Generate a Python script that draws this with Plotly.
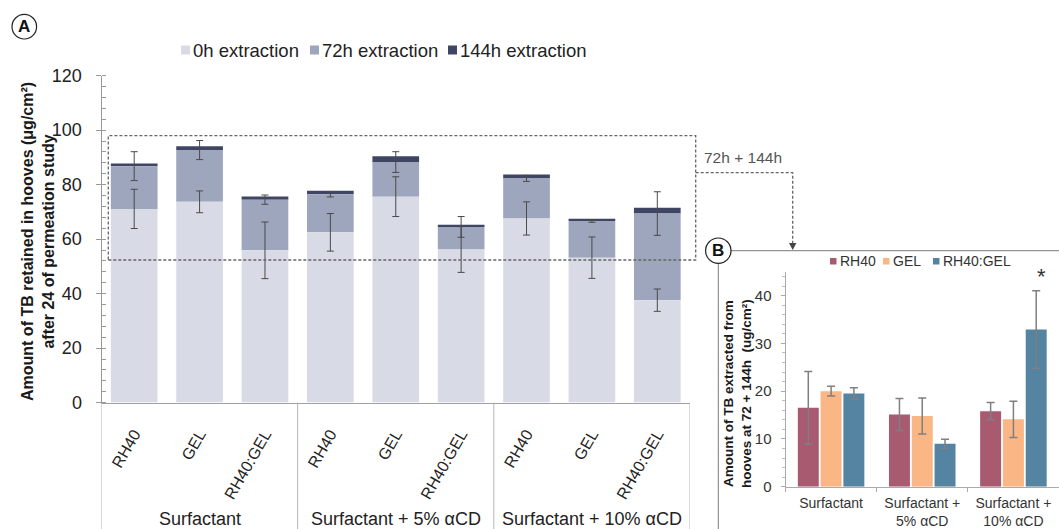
import plotly.graph_objects as go

W, H = 1059, 529
FONT = "Liberation Sans, Arial, Helvetica, sans-serif"

# ---- Panel A: TB retained in hooves, stacked by extraction time ----
formulations = ["RH40", "GEL", "RH40:GEL"] * 3
groups_a = ["Surfactant", "Surfactant + 5% αCD", "Surfactant + 10% αCD"]
series_a = ["0h extraction", "72h extraction", "144h extraction"]
colors_a = ["#d8dbe6", "#9ea6bd", "#3e4663"]

extract_0h = [71.1, 73.7, 55.9, 62.5, 75.6, 56.2, 67.6, 53.2, 37.6]
extract_0h_sd = [7.2, 4.0, 10.4, 6.9, 7.3, 8.4, 6.1, 7.6, 4.1]
extract_72h = [15.7, 19.0, 18.6, 14.0, 12.7, 8.3, 14.7, 13.5, 31.8]
extract_72h_sd = [5.3, 3.5, 1.7, 1.0, 3.8, 3.8, 1.1, 0.5, 8.0]
extract_144h = [1.0, 1.4, 1.2, 1.3, 2.1, 0.8, 1.4, 0.8, 2.1]

# ---- Panel B: TB extracted at 72 + 144h ----
groups_b = ["Surfactant", "Surfactant +<br>5% αCD", "Surfactant +<br>10% αCD"]
series_b = ["RH40", "GEL", "RH40:GEL"]
colors_b = ["#a85a70", "#fab685", "#5484a2"]
b_rh40 = [16.5, 15.1, 15.8]
b_rh40_sd = [7.6, 3.35, 1.8]
b_gel = [20.0, 14.8, 14.1]
b_gel_sd = [1.0, 3.75, 3.8]
b_mix = [19.5, 9.0, 32.9]
b_mix_sd = [1.2, 0.95, 8.1]
significant_b = [False, False, True]  # RH40:GEL only


def px(x):
    return x / W


def py(y):
    return 1 - y / H


positions = list(range(len(formulations)))
base_72h = extract_0h
base_144h = [a + b for a, b in zip(extract_0h, extract_72h)]

fig = go.Figure()

# stacked segments drawn top-down so lower error bars stay visible
stack = [
    (series_a[2], extract_144h, base_144h, None, colors_a[2]),
    (series_a[1], extract_72h, base_72h, extract_72h_sd, colors_a[1]),
    (series_a[0], extract_0h, [0] * len(extract_0h), extract_0h_sd, colors_a[0]),
]
for name, vals, base, sd, col in stack:
    err = None
    if sd is not None:
        err = dict(type="data", array=sd, visible=True, color="#4a4a4a", thickness=1, width=3.5)
    fig.add_trace(go.Bar(
        x=positions, y=vals, base=base, name=name, marker=dict(color=col, line=dict(width=0)),
        offsetgroup="a", width=0.714, error_y=err, xaxis="x", yaxis="y", showlegend=False,
    ))

for name, vals, sd, col in zip(series_b, [b_rh40, b_gel, b_mix], [b_rh40_sd, b_gel_sd, b_mix_sd], colors_b):
    fig.add_trace(go.Bar(
        x=groups_b, y=vals, name=name, marker=dict(color=col, line=dict(width=0)),
        error_y=dict(type="data", array=sd, visible=True, color="#7f7f7f", thickness=1.5, width=4),
        xaxis="x2", yaxis="y2", showlegend=False,
    ))

shapes = []
annotations = []

# category boxes under panel A
for xv in [-0.5, 2.5, 5.5, 8.5]:
    shapes.append(dict(type="line", xref="x", yref="paper", x0=xv, x1=xv, y0=py(402.6), y1=0,
                       line=dict(color="#b4b4b4", width=1)))
for gi, g in enumerate(groups_a):
    annotations.append(dict(text=g, xref="x", yref="paper", x=3 * gi + 1, y=py(519),
                            showarrow=False, xanchor="center", yanchor="middle",
                            font=dict(size=18, color="#222")))

# panel A legend
leg_a_x = [181, 310, 448]
for name, col, lx in zip(series_a, colors_a, leg_a_x):
    shapes.append(dict(type="rect", xref="paper", yref="paper", x0=px(lx), x1=px(lx + 9),
                       y0=py(54.5), y1=py(45.5), fillcolor=col, line=dict(width=0)))
    annotations.append(dict(text=name, xref="paper", yref="paper", x=px(lx + 10), y=py(50),
                            showarrow=False, xanchor="left", yanchor="middle",
                            font=dict(size=18.5, color="#222")))

# panel B legend
leg_b_x = [830, 883, 933]
for name, col, lx in zip(series_b, colors_b, leg_b_x):
    shapes.append(dict(type="rect", xref="paper", yref="paper", x0=px(lx), x1=px(lx + 6.5),
                       y0=py(264.5), y1=py(258), fillcolor=col, line=dict(width=0)))
    annotations.append(dict(text=name, xref="paper", yref="paper", x=px(lx + 7.5), y=py(261.5),
                            showarrow=False, xanchor="left", yanchor="middle",
                            font=dict(size=14, color="#333")))

# significance marker
for g, v, sd, sig in zip(groups_b, b_mix, b_mix_sd, significant_b):
    if sig:
        annotations.append(dict(text="*", xref="x2", yref="y2", x=g, xshift=28, y=v + sd,
                                yshift=0, showarrow=False, yanchor="bottom",
                                font=dict(size=22, color="#333")))

# axis titles
annotations.append(dict(
    text="<b>Amount of TB retained in hooves (μg/cm²)<br>after 24 of permeation study</b>",
    xref="paper", yref="paper", x=px(38), y=py(242), textangle=-90, showarrow=False,
    xanchor="center", yanchor="middle", font=dict(size=16, color="#1a1a1a")))
annotations.append(dict(
    text="<b>Amount of TB extracted from<br>hooves at 72 + 144h  (ug/cm²)</b>",
    xref="paper", yref="paper", x=px(737), y=py(394), textangle=-90, showarrow=False,
    xanchor="center", yanchor="middle", font=dict(size=13.5, color="#1a1a1a")))

# zoom box linking panel A to panel B
dash_line = dict(color="#666", width=1.3, dash="3px,2px")
shapes.append(dict(type="rect", xref="paper", yref="paper", x0=px(108.3), x1=px(695.7),
                   y0=py(260), y1=py(135.7), line=dash_line))
shapes.append(dict(type="path", xref="paper", yref="paper",
                   path=f"M {px(695.7)},{py(172.7)} L {px(792.7)},{py(172.7)} L {px(792.7)},{py(243)}",
                   line=dash_line))
shapes.append(dict(type="path", xref="paper", yref="paper",
                   path=f"M {px(789)},{py(243)} L {px(796.4)},{py(243)} L {px(792.7)},{py(250)} Z",
                   fillcolor="#444", line=dict(width=0)))
annotations.append(dict(text="72h + 144h", xref="paper", yref="paper", x=px(743), y=py(158),
                        showarrow=False, xanchor="center", yanchor="middle",
                        font=dict(size=15.5, color="#555")))

# panel B frame
shapes.append(dict(type="line", xref="paper", yref="paper", x0=px(731), x1=1, y0=py(250.7), y1=py(250.7),
                   line=dict(color="#7a7a7a", width=1)))
shapes.append(dict(type="line", xref="paper", yref="paper", x0=px(718.3), x1=px(718.3), y0=py(263.4), y1=0,
                   line=dict(color="#7a7a7a", width=1)))

# panel letters
for letter, cx, cy, r in [("A", 24.3, 26.7, 12.3), ("B", 718.3, 250.7, 12.7)]:
    shapes.append(dict(type="circle", xref="paper", yref="paper", x0=px(cx - r), x1=px(cx + r),
                       y0=py(cy + r), y1=py(cy - r), fillcolor="white", line=dict(color="#222", width=1.2)))
    annotations.append(dict(text=f"<b>{letter}</b>", xref="paper", yref="paper", x=px(cx), y=py(cy),
                            showarrow=False, xanchor="center", yanchor="middle",
                            font=dict(size=17, color="#111")))

fig.update_layout(
    width=W, height=H, margin=dict(l=0, r=0, t=0, b=0, autoexpand=False),
    paper_bgcolor="white", plot_bgcolor="rgba(0,0,0,0)",
    barmode="group", bargap=0.25, bargroupgap=0.08,
    showlegend=False, font=dict(family=FONT, color="#222"),
    shapes=shapes, annotations=annotations,
    xaxis=dict(domain=[px(101.5), px(690)], range=[-0.5, 8.5], tickvals=positions, ticktext=formulations,
               tickangle=-60, ticks="", showline=True, linecolor="#a0a0a0", showgrid=False, zeroline=False,
               tickfont=dict(size=16, color="#222"), ticklabelstandoff=15, anchor="y", automargin=False),
    yaxis=dict(domain=[py(402.6), py(75.7)], range=[0, 120], dtick=20, ticks="outside", ticklen=5,
               tickcolor="#999", showline=True, linecolor="#999", showgrid=False, zeroline=False,
               tickfont=dict(size=18, color="#222"), ticklabelstandoff=10, anchor="x", automargin=False,
               minor=dict(dtick=4, ticks="inside", ticklen=4, tickcolor="#999")),
    xaxis2=dict(domain=[px(785.5), 1], anchor="y2", type="category", range=[-0.5, 2.5],
                ticks="outside", tickson="boundaries", ticklen=4, tickcolor="#aaa",
                showline=True, linecolor="#aaa", showgrid=False, zeroline=False, automargin=False,
                tickfont=dict(size=14, color="#333"), ticklabelstandoff=3),
    yaxis2=dict(domain=[py(486.7), py(271.7)], anchor="x2", range=[0, 45], dtick=10, ticks="outside",
                ticklen=4, tickcolor="#aaa", showline=True, linecolor="#aaa", showgrid=False, zeroline=False,
                tickfont=dict(size=15, color="#333"), ticklabelstandoff=6, automargin=False,
                minor=dict(dtick=2, ticks="outside", ticklen=3, tickcolor="#bbb")),
)

fig.write_html("out.html")
